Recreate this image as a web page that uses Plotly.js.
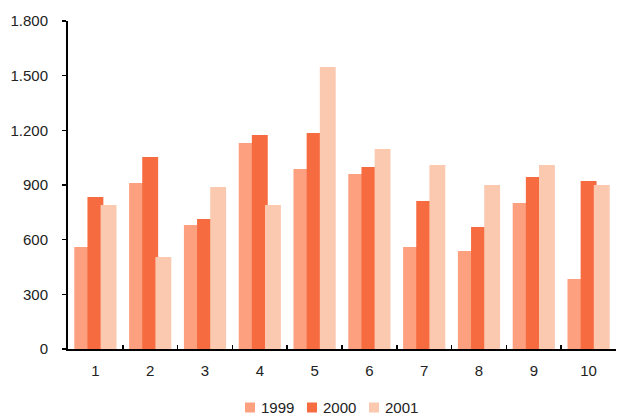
<!DOCTYPE html>
<html>
<head>
<meta charset="utf-8">
<script src="https://cdn.plot.ly/plotly-3.0.1.min.js"></script>
<style>html,body{margin:0;padding:0;background:#fff;}#chart{width:623px;height:417px;}</style>
</head>
<body>
<div id="chart"></div>
<script>
var categories = ["1","2","3","4","5","6","7","8","9","10"];
var seriesNames = ["1999","2000","2001"];
var values1999 = [560, 911, 680, 1130, 988, 960, 560, 538, 801, 384];
var values2000 = [834, 1054, 713, 1174, 1185, 999, 812, 670, 944, 922];
var values2001 = [790, 505, 889, 790, 1548, 1098, 1010, 900, 1010, 900];
var yTicks = [0, 300, 600, 900, 1200, 1500, 1800];

var colors = ["#FCA080", "#F76B40", "#FAC9B0"];
var allValues = [values1999, values2000, values2001];
var barW = 0.29, step = 0.24;
var traces = allValues.map(function (vals, i) {
  return {
    type: "bar",
    name: seriesNames[i],
    x: categories,
    y: vals,
    width: barW,
    offset: -barW / 2 + (i - 1) * step,
    marker: {color: colors[i], line: {width: 0}},
    showlegend: false,
    hoverinfo: "x+y+name"
  };
});

// plot area geometry in pixels (for the hand-placed legend)
var W = 623, H = 417, mL = 68, mR = 7, mT = 21, mB = 68;
var pw = W - mL - mR, ph = H - mT - mB;
function px(x) { return (x - mL) / pw; }
function py(y) { return (H - mB - y) / ph; }

var font = {family: "Liberation Sans, Arial, sans-serif", size: 15, color: "#222"};
var legendSquareX = [245, 307, 369];
var legendMidY = 407.5;
var shapes = [], annotations = [];
seriesNames.forEach(function (name, i) {
  var x0 = legendSquareX[i];
  shapes.push({type: "rect", xref: "paper", yref: "paper",
    x0: px(x0), x1: px(x0 + 10), y0: py(legendMidY + 5), y1: py(legendMidY - 5),
    fillcolor: colors[i], line: {width: 0}});
  annotations.push({xref: "paper", yref: "paper", x: px(x0 + 15), y: py(legendMidY),
    xanchor: "left", yanchor: "middle", text: name, showarrow: false, font: font,
    borderpad: 0});
});

var layout = {
  width: W, height: H,
  margin: {l: mL, r: mR, t: mT, b: mB, autoexpand: false},
  paper_bgcolor: "#fff", plot_bgcolor: "#fff",
  barmode: "overlay",
  separators: ",.",
  font: font,
  showlegend: false,
  shapes: shapes,
  annotations: annotations,
  xaxis: {
    type: "category",
    range: [-0.5, 9.5],
    showline: true, linecolor: "#000", linewidth: 2,
    ticks: "inside", tickson: "boundaries", ticklen: 4, tickwidth: 1.5, tickcolor: "#000",
    showgrid: false, zeroline: false,
    ticklabelstandoff: 7,
    tickfont: font
  },
  yaxis: {
    range: [0, 1800],
    tickvals: yTicks,
    tickformat: ",d",
    showline: true, linecolor: "#000", linewidth: 2,
    ticks: "outside", ticklen: 4, tickwidth: 1.5, tickcolor: "#000",
    showgrid: false, zeroline: false,
    ticklabelstandoff: 11,
    tickfont: font
  }
};

Plotly.newPlot("chart", traces, layout, {staticPlot: true, displayModeBar: false});
</script>
</body>
</html>
